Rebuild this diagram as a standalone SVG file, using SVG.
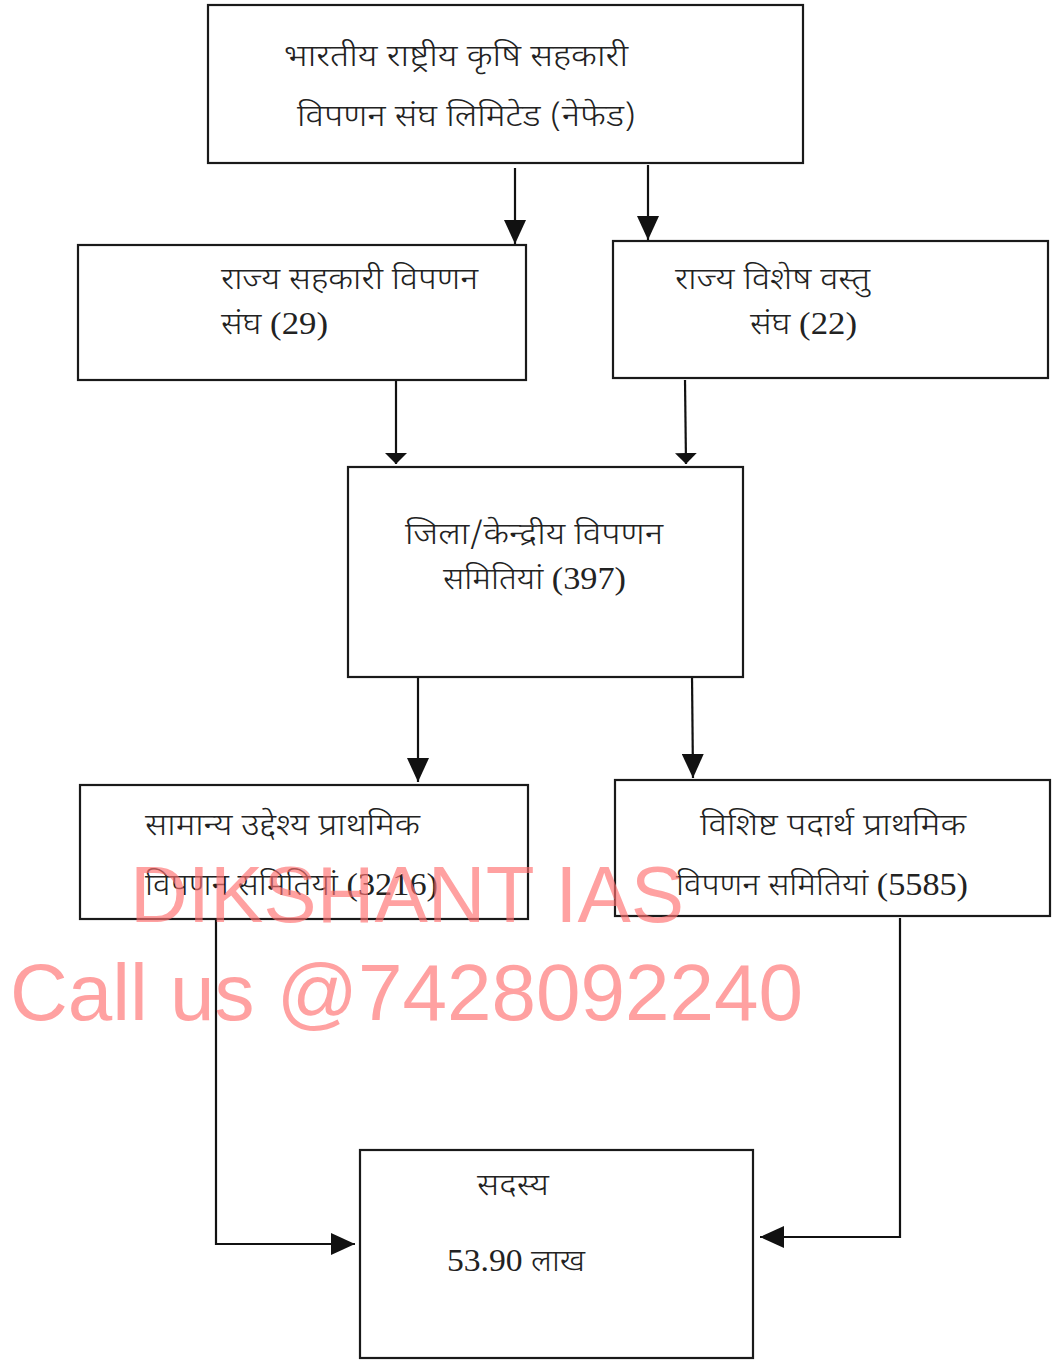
<svg xmlns="http://www.w3.org/2000/svg" width="1057" height="1360" viewBox="0 0 1057 1360">
<style>
.box{fill:#fff;stroke:#1a1a1a;stroke-width:2.2}
.t{font-family:"Noto Sans Devanagari","Noto Sans","Lohit Devanagari","FreeSans",sans-serif;font-size:30px;font-weight:300;fill:#222}
.n{font-family:"Liberation Serif",serif;font-size:31px;font-weight:400}
.c{fill:none;stroke:#111;stroke-width:2.2}
.wm{font-family:"Liberation Sans",Arial,sans-serif;font-size:80px;fill:#ff6e6e;fill-opacity:0.65}
</style>
<defs>
<marker id="sm" viewBox="0 0 11 22" refX="11" refY="11" markerWidth="11" markerHeight="22" markerUnits="userSpaceOnUse" orient="auto">
<path d="M0,0 L11,11 L0,22 z" fill="#111"/>
</marker>
<marker id="big" viewBox="0 0 24 22" refX="24" refY="11" markerWidth="24" markerHeight="22" markerUnits="userSpaceOnUse" orient="auto">
<path d="M0,0 L24,11 L0,22 z" fill="#111"/>
</marker>
</defs>
<rect width="1057" height="1360" fill="#fff"/>
<g id="connectors">
<line class="c" x1="515" y1="168" x2="515" y2="244" marker-end="url(#big)"/>
<line class="c" x1="648" y1="165" x2="648" y2="240" marker-end="url(#big)"/>
<line class="c" x1="396" y1="380" x2="396" y2="464" marker-end="url(#sm)"/>
<line class="c" x1="685" y1="380" x2="686" y2="464" marker-end="url(#sm)"/>
<line class="c" x1="418" y1="678" x2="418" y2="782" marker-end="url(#big)"/>
<line class="c" x1="692" y1="675" x2="693" y2="778" marker-end="url(#big)"/>
<polyline class="c" points="216,919 216,1244 355,1244" marker-end="url(#big)"/>
<polyline class="c" points="900,918 900,1237 760,1237" marker-end="url(#big)"/>
</g>
<g id="nafed">
<rect class="box" x="208" y="5" width="595" height="158"/>
<text class="t" x="284" y="66" textLength="344" lengthAdjust="spacingAndGlyphs">भारतीय राष्ट्रीय कृषि सहकारी</text>
<text class="t" x="297" y="126" textLength="339" lengthAdjust="spacingAndGlyphs">विपणन संघ लिमिटेड (नेफेड)</text>
</g>
<g id="state-coop">
<rect class="box" x="78" y="245" width="448" height="135"/>
<text class="t" x="221" y="289" textLength="257" lengthAdjust="spacingAndGlyphs">राज्य सहकारी विपणन</text>
<text class="t" x="221" y="334" textLength="107" lengthAdjust="spacingAndGlyphs">संघ <tspan class="n">(29)</tspan></text>
</g>
<g id="state-commodity">
<rect class="box" x="613" y="241" width="435" height="137"/>
<text class="t" x="675" y="289" textLength="195" lengthAdjust="spacingAndGlyphs">राज्य विशेष वस्तु</text>
<text class="t" x="750" y="334" textLength="107" lengthAdjust="spacingAndGlyphs">संघ <tspan class="n">(22)</tspan></text>
</g>
<g id="district">
<rect class="box" x="348" y="467" width="395" height="210"/>
<text class="t" x="405" y="544" textLength="258" lengthAdjust="spacingAndGlyphs">जिला/केन्द्रीय विपणन</text>
<text class="t" x="443" y="589" textLength="183" lengthAdjust="spacingAndGlyphs">समितियां <tspan class="n">(397)</tspan></text>
</g>
<g id="general-primary">
<rect class="box" x="80" y="785" width="448" height="134"/>
<text class="t" x="145" y="835" textLength="275" lengthAdjust="spacingAndGlyphs">सामान्य उद्देश्य प्राथमिक</text>
<text class="t" x="145" y="895" textLength="293" lengthAdjust="spacingAndGlyphs">विपणन समितियां <tspan class="n">(3216)</tspan></text>
</g>
<g id="special-primary">
<rect class="box" x="615" y="780" width="435" height="136"/>
<text class="t" x="700" y="835" textLength="266" lengthAdjust="spacingAndGlyphs">विशिष्ट पदार्थ प्राथमिक</text>
<text class="t" x="676" y="895" textLength="292" lengthAdjust="spacingAndGlyphs">विपणन समितियां <tspan class="n">(5585)</tspan></text>
</g>
<g id="members">
<rect class="box" x="360" y="1150" width="393" height="208"/>
<text class="t" x="477" y="1195" textLength="72" lengthAdjust="spacingAndGlyphs">सदस्य</text>
<text class="t" x="447" y="1271" textLength="138" lengthAdjust="spacingAndGlyphs"><tspan class="n">53.90</tspan> लाख</text>
</g>
<g id="watermark">
<text class="wm" x="130" y="922">DIKSHANT IAS</text>
<text class="wm" x="10" y="1020">Call us @7428092240</text>
</g>
</svg>
